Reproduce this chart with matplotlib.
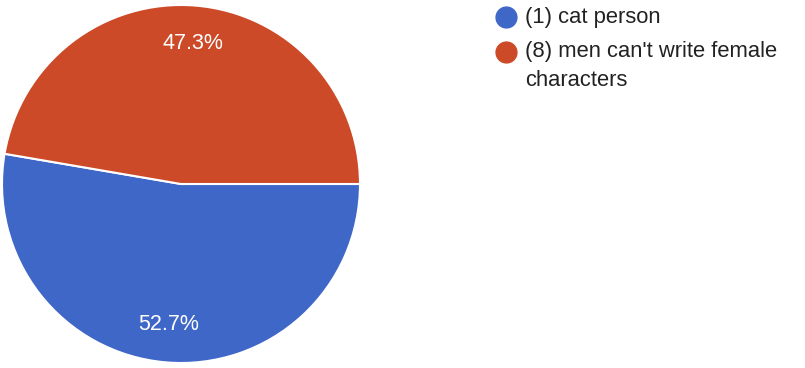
import matplotlib
matplotlib.use("Agg")
import matplotlib.pyplot as plt
from matplotlib.lines import Line2D

labels = ["(1) cat person", "(8) men can't write female\ncharacters"]
values = [52.7, 47.3]
colors = ["#3f67c8", "#cc4a28"]

W, H = 805, 368
fig = plt.figure(figsize=(W / 100, H / 100), dpi=100)
plt.rcParams['font.family'] = ['Liberation Sans', 'DejaVu Sans']

cx, cy, r = 181, 184, 179
ax = fig.add_axes([(cx - r) / W, (H - cy - r) / H, 2 * r / W, 2 * r / H])
wedges, texts, autotexts = ax.pie(
    values, colors=colors, startangle=0, counterclock=False,
    autopct='%1.1f%%', pctdistance=0.79,
    wedgeprops=dict(edgecolor='white', linewidth=1.5),
    textprops=dict(color='white', fontsize=15.5))
ax.set_aspect('equal')
ax.set_xlim(-1, 1)
ax.set_ylim(-1, 1)
ax.axis('off')

# legend drawn manually
mx, tx = 506, 525
ys = [17, 52]
line_gap = 29
for lab, col, y in zip(labels, colors, ys):
    fig.add_artist(Line2D([mx / W], [1 - y / H], marker='o', markersize=15,
                          color=col, linestyle='none', transform=fig.transFigure))
    for i, part in enumerate(lab.split('\n')):
        fig.text(tx / W, 1 - (y + i * line_gap) / H, part, fontsize=15.8,
                 color='#222222', va='center', ha='left')

fig.savefig("out.png", dpi=100)
